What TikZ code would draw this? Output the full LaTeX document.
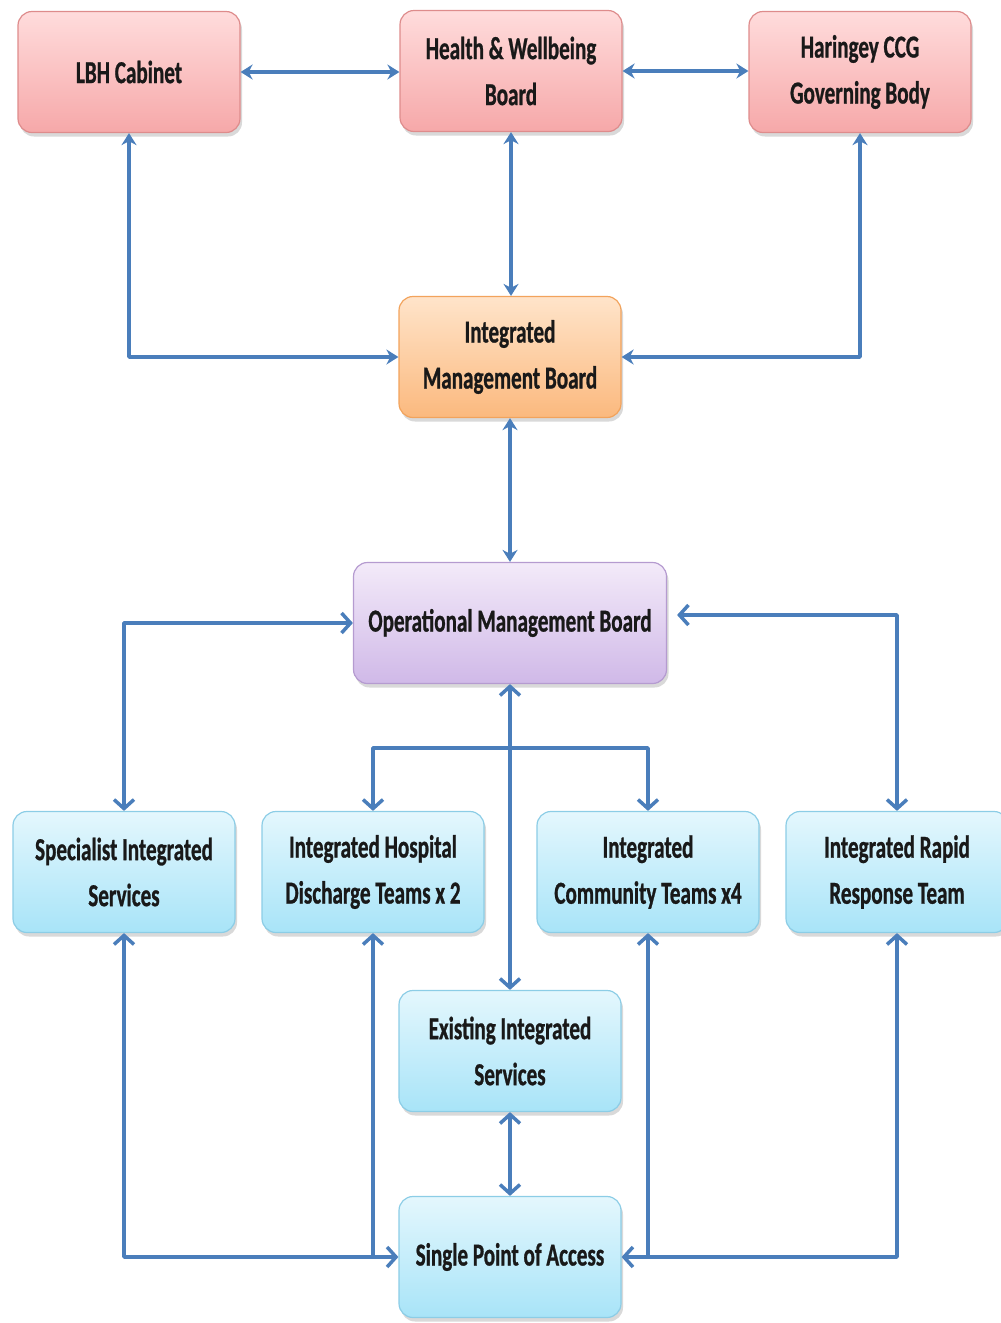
\documentclass[tikz,border=0pt]{standalone}
\usepackage{fontspec}
\setmainfont{Carlito Bold}[FakeStretch=0.66, FakeBold=0.8]
\usetikzlibrary{arrows.meta,shadows}
\definecolor{linkblue}{HTML}{4A7EBB}
\definecolor{pinktop}{HTML}{FFDCDC}\definecolor{pinkbot}{HTML}{F6A8A9}\definecolor{pinkedge}{HTML}{DE8C8C}
\definecolor{orgtop}{HTML}{FFE4CA}\definecolor{orgbot}{HTML}{FBB97E}\definecolor{orgedge}{HTML}{F2A35C}
\definecolor{purtop}{HTML}{F3EAF9}\definecolor{purbot}{HTML}{D0B9E8}\definecolor{puredge}{HTML}{B59BD0}
\definecolor{cyntop}{HTML}{E4F7FD}\definecolor{cynbot}{HTML}{A8E4F8}\definecolor{cynedge}{HTML}{8CCDE6}
\begin{document}
\begin{tikzpicture}[x=1pt,y=-1pt, font=\fontsize{32}{46}\selectfont, line join=round,
	box/.style={rounded corners=14pt, minimum width=222pt, minimum height=121pt, align=center, line width=1.2pt,
		text=black!90, drop shadow={shadow xshift=2pt,shadow yshift=-4pt,opacity=.3}},
	pinkbox/.style={box, draw=pinkedge, top color=pinktop, bottom color=pinkbot},
	orgbox/.style={box, draw=orgedge, top color=orgtop, bottom color=orgbot},
	purbox/.style={box, draw=puredge, top color=purtop, bottom color=purbot},
	cynbox/.style={box, draw=cynedge, top color=cyntop, bottom color=cynbot},
	link/.style={draw=linkblue, line width=3.5pt, {Stealth[length=12pt,width=15pt]}-{Stealth[length=12pt,width=15pt]}},
	barb/.style={draw=linkblue, line width=3.5pt, {Straight Barb[length=9pt,width=20pt]}-{Straight Barb[length=9pt,width=20pt]}},
	barbend/.style={draw=linkblue, line width=3.5pt, -{Straight Barb[length=9pt,width=20pt]}}]
	\useasboundingbox (0,0) rectangle (1001,1323);
	%	\draw[gray!30] (0,0) grid[step=100] (1001,1323);
	\node[pinkbox] (lbh) at (129,72) {LBH Cabinet};
	\node[pinkbox] (hwb) at (511,71) {Health \& Wellbeing\\Board};
	\node[pinkbox] (ccg) at (860,72) {Haringey CCG\\Governing Body};
	\node[orgbox] (imb) at (510,357) {Integrated\\Management Board};
	\node[purbox, minimum width=313pt] (omb) at (510,623) {Operational Management Board};
	\node[cynbox] (sis) at (124,872) {Specialist Integrated\\Services};
	\node[cynbox] (ihd) at (373,872) {Integrated Hospital\\Discharge Teams x 2};
	\node[cynbox] (ict) at (648,872) {Integrated\\Community Teams x4};
	\node[cynbox] (irr) at (897,872) {Integrated Rapid\\Response Team};
	\node[cynbox] (eis) at (510,1051) {Existing Integrated\\Services};
	\node[cynbox] (spa) at (510,1257) {Single Point of Access};
	\coordinate (split) at (511,748);
	\draw[link] (lbh.east) -- (lbh.east -| hwb.west);
	\draw[link] (hwb.east) -- (hwb.east -| ccg.west);
	\draw[link] (hwb.south) -- (hwb.south |- imb.north);
	\draw[link] (lbh.south) |- (imb.west);
	\draw[link] (ccg.south) |- (imb.east);
	\draw[link] (imb) -- (omb);
	\draw[barb] (omb.west) -| (sis.north);
	\draw[barb] ([xshift=10pt,yshift=8pt]omb.east) -| (irr.north);
	\draw[barb] (omb.south) -- (omb.south |- eis.north);
	\draw[barb] (ihd.north) |- (split) -| (ict.north);
	\draw[barb] (eis) -- (spa);
	\draw[barb] (sis.south) |- (spa.west);
	\draw[barb] (irr.south) |- (spa.east);
	\draw[barbend] (spa.west -| ihd.south) -- (ihd.south);
	\draw[barbend] (spa.east -| ict.south) -- (ict.south);
\end{tikzpicture}
\end{document}
